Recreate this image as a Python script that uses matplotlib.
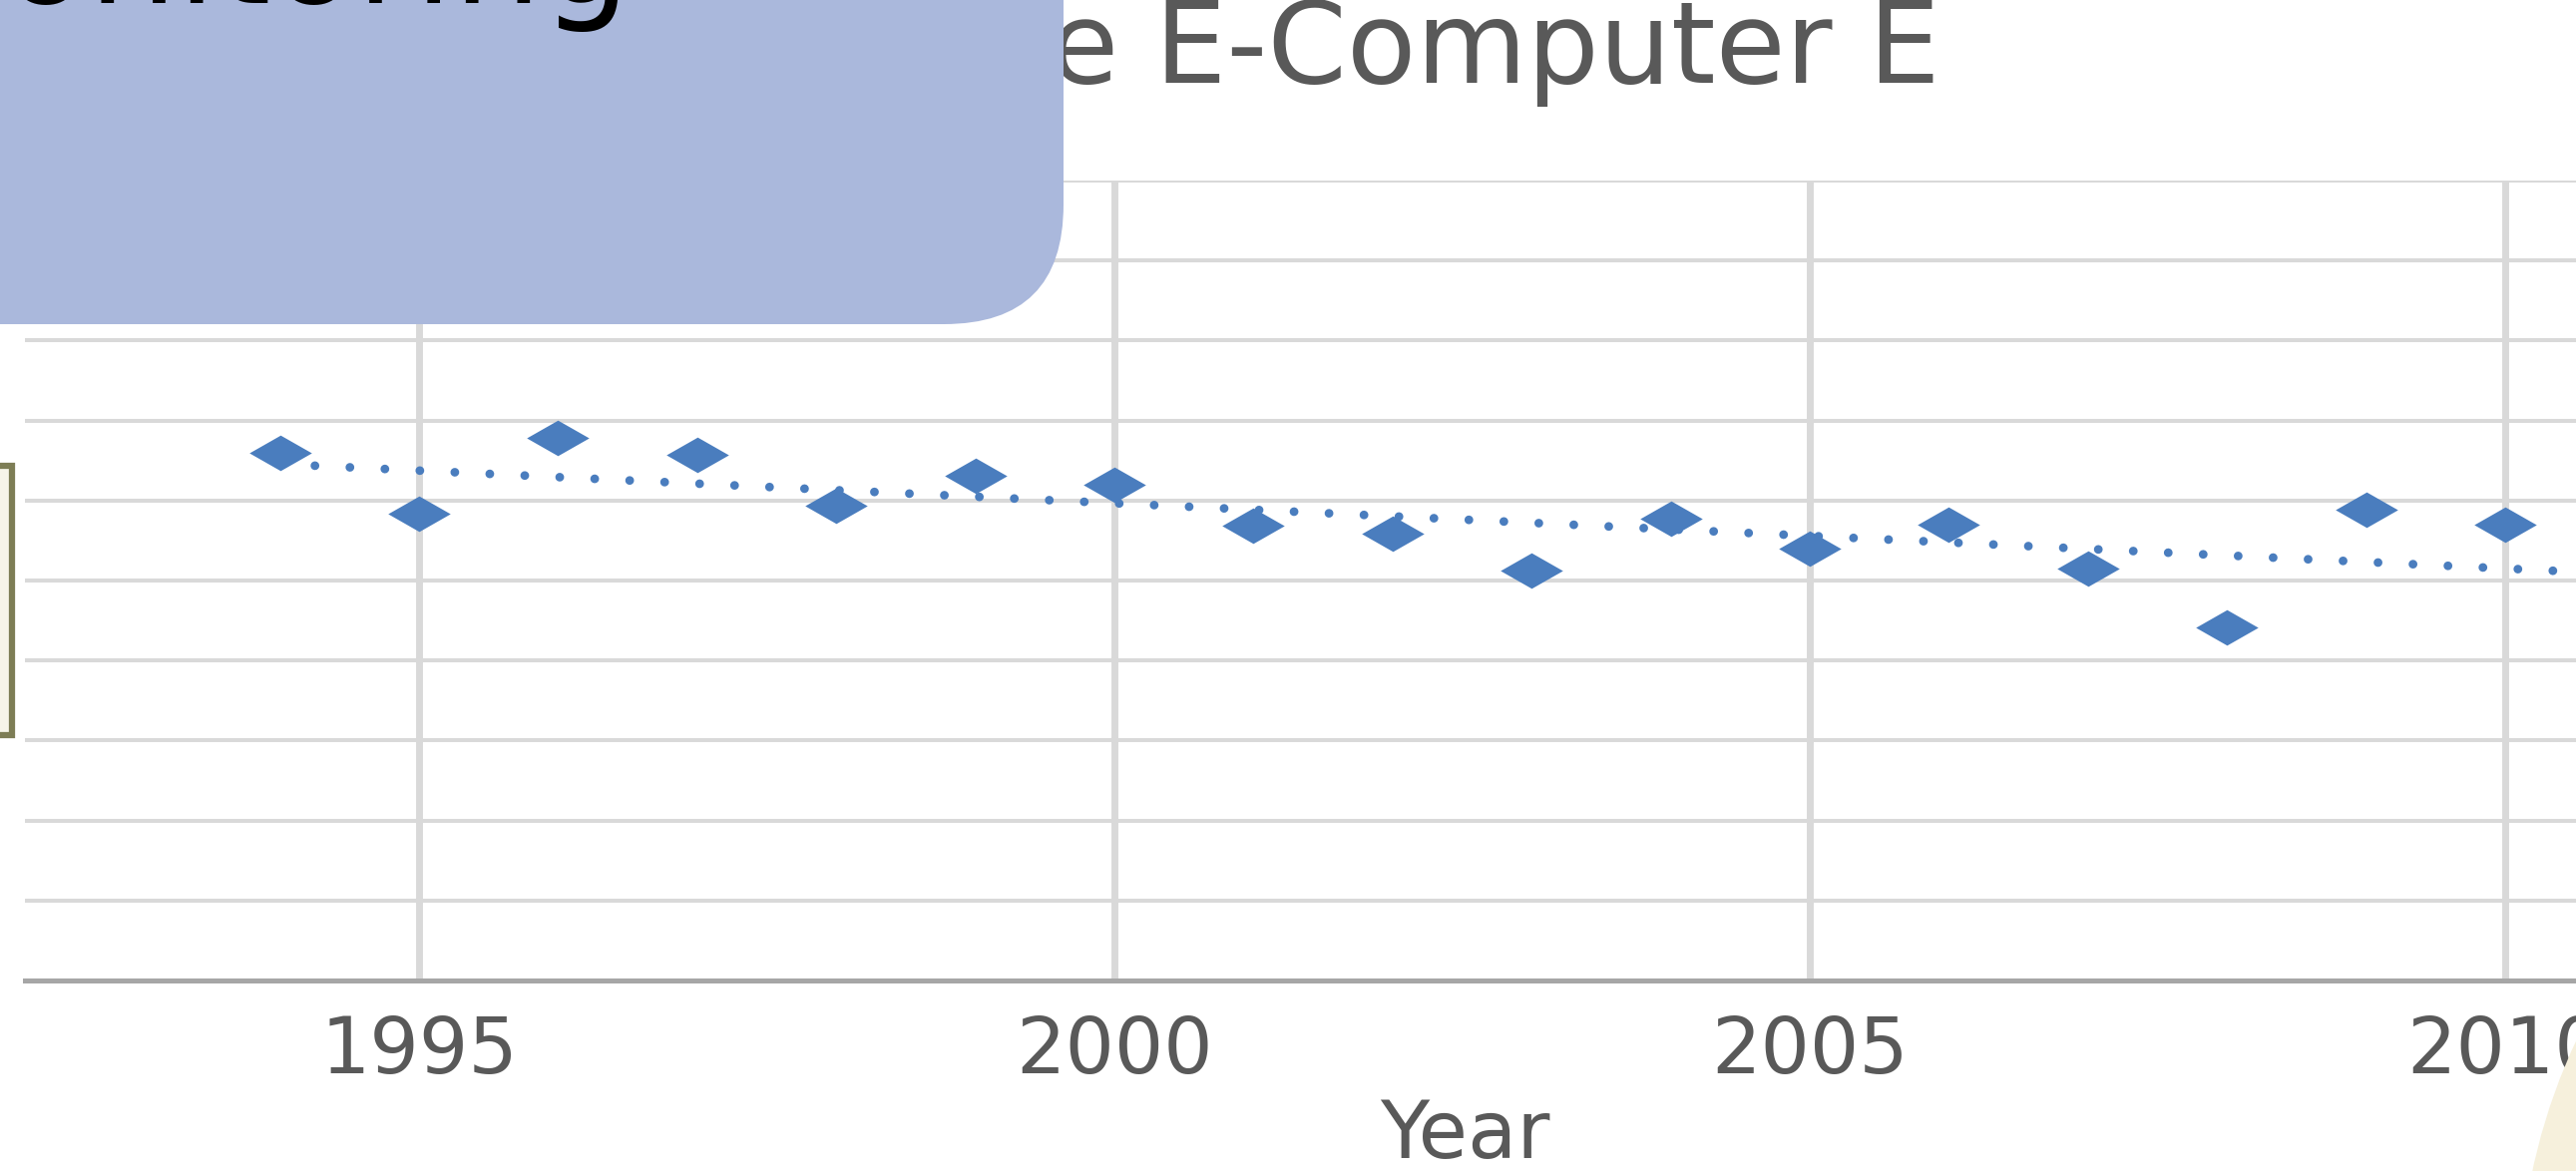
import numpy as np
import matplotlib.pyplot as plt
from matplotlib.path import Path
from matplotlib.patches import FancyBboxPatch, Rectangle, Circle

# data (y in gridline units, no labels visible)
years = [1994, 1995, 1996, 1997, 1998, 1999, 2000, 2001, 2002,
         2003, 2004, 2005, 2006, 2007, 2008, 2009, 2010]
values = [6.60, 5.84, 6.78, 6.57, 5.94, 6.31, 6.20, 5.69, 5.58,
          5.12, 5.77, 5.40, 5.70, 5.15, 4.42, 5.88, 5.70]
year_ticks = [1995, 2000, 2005, 2010]
y_grid = [0, 1, 2, 3, 4, 5, 6, 7, 8, 9, 10]

title = "Energy Use E-Computer E"
box_text = "Monitoring"

blue = "#4a7dbe"
grey_text = "#595959"
grid_col = "#d9d9d9"

W, H = 2582, 1174
fig = plt.figure(figsize=(W / 100, H / 100), dpi=100)

# main chart, stretched wide like the pasted Excel picture
px_per_year = (2511 - 420) / 15
x_left = 1995 - (420 - 25) / px_per_year
x_right = 2011.2
ax = fig.add_axes([25 / W, (H - 983) / H,
                   (x_right - x_left) * px_per_year / W, (983 - 181) / H])
ax.set_xticks(year_ticks)
ax.set_yticks(y_grid)
ax.set_xlim(x_left, x_right)
ax.set_ylim(y_grid[0], y_grid[-1])
ax.set_axisbelow(True)
ax.grid(axis='x', color=grid_col, lw=5)
ax.grid(axis='y', color=grid_col, lw=2.9)
for s in ['top', 'right', 'left']:
    ax.spines[s].set_visible(False)
ax.spines['bottom'].set_color('#a6a6a6')
ax.spines['bottom'].set_linewidth(3.6)
ax.tick_params(axis='y', labelleft=False, length=0)
ax.tick_params(axis='x', length=0, pad=24, labelsize=56, labelcolor=grey_text)

# wide diamond marker
diamond = Path([(-1, 0), (0, 0.57), (1, 0), (0, -0.57), (-1, 0)],
               [Path.MOVETO, Path.LINETO, Path.LINETO, Path.LINETO, Path.CLOSEPOLY])
ax.plot(years, values, linestyle='none', marker=diamond, markersize=45,
        color=blue, markeredgewidth=0, zorder=3)

# linear trendline, dotted
k, b = np.polyfit(years, values, 1)
xt = np.array([years[0], x_right])
ax.plot(xt, k * xt + b, color=blue, lw=6.3, linestyle=(0, (0.01, 4.0)),
        dash_capstyle='round', zorder=4)

ax.set_xlabel('Year', fontsize=58, color=grey_text)
ax.xaxis.set_label_coords((1468 - 25) / ((x_right - x_left) * px_per_year),
                          (983 - 1100) / (983 - 181))

# slide decorations on top, in pixel coordinates
ov = fig.add_axes([0, 0, 1, 1], zorder=3)
ov.set_xlim(0, W)
ov.set_ylim(H, 0)
ov.axis('off')

ov.text(1945, 83, title, ha='right', va='baseline', fontsize=82,
        color=grey_text, zorder=1)

ov.add_patch(FancyBboxPatch((-300, -400), 1066 + 300, 325 + 400,
                            boxstyle='round,pad=0,rounding_size=120',
                            fc='#aab8dc', ec='none', zorder=2))
ov.text(632, 3, box_text, ha='right', va='baseline', fontsize=101,
        color='black', zorder=3)

ov.add_patch(Rectangle((-30, 467), 42, 270, fc='#f6f4e9', ec='#7d7d55',
                       lw=4.5, zorder=2))
ov.add_patch(Circle((3130, 1300), 605, fc='#f6f0dc', ec='none', zorder=2))

fig.savefig('out.png', dpi=100)
